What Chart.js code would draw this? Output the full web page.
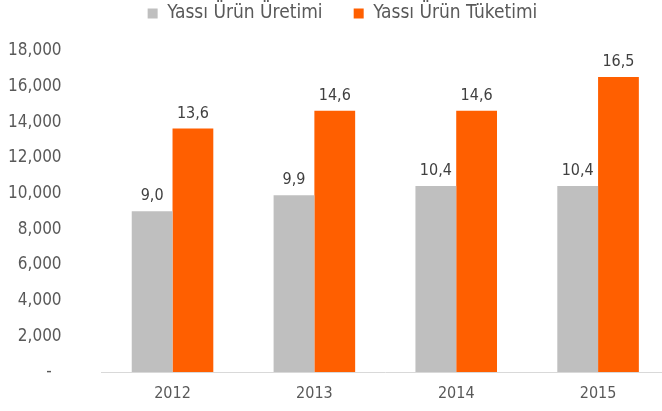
<!DOCTYPE html>
<html>
<head>
<meta charset="utf-8">
<script src="https://cdn.jsdelivr.net/npm/chart.js@4"></script>
<style>
  html, body { margin: 0; padding: 0; background: #fff; overflow: hidden; }
  #wrap { position: absolute; left: 0; top: 0; width: 670px; height: 411px; }
</style>
</head>
<body>
<div id="wrap"><canvas id="c" width="670" height="411"></canvas></div>
<script>
const YEARS = ["2012", "2013", "2014", "2015"];
const URETIM = [9000, 9900, 10420, 10420];
const TUKETIM = [13640, 14640, 14640, 16520];
const SERIES_NAMES = ["Yassı Ürün Üretimi", "Yassı Ürün Tüketimi"];
const Y_MAX = 18000;
const Y_STEP = 2000;

const FONT = "'DejaVu Sans Condensed', 'DejaVu Sans', sans-serif";
const TXT = "#595959";

// etiketler: binler, virgüllü tek ondalık
const fmtLabel = (v) => (v / 1000).toFixed(1).replace(".", ",");

const barLabels = {
  id: "barLabels",
  afterDatasetsDraw(chart) {
    const ctx = chart.ctx;
    ctx.save();
    ctx.font = "16px " + FONT;
    ctx.fillStyle = "#404040";
    ctx.textAlign = "center";
    ctx.textBaseline = "alphabetic";
    chart.data.datasets.forEach((ds, i) => {
      chart.getDatasetMeta(i).data.forEach((bar, j) => {
        ctx.fillText(fmtLabel(ds.data[j]), bar.x, bar.y - 11);
      });
    });
    ctx.restore();
  },
};

// lejantı en üste sabitle (y ekseninin üst boşluğu onu aşağı itiyor)
const legendTop = {
  id: "legendTop",
  afterLayout(chart) {
    const L = chart.legend;
    const dy = L.top;
    L.top -= dy; L.bottom -= dy;
    L.left += 5; L.right += 5;
  },
};

new Chart(document.getElementById("c"), {
  type: "bar",
  data: {
    labels: YEARS,
    datasets: [
      { label: SERIES_NAMES[0], data: URETIM, backgroundColor: "#BFBFBF" },
      { label: SERIES_NAMES[1], data: TUKETIM, backgroundColor: "#FF5F00" },
    ],
  },
  options: {
    responsive: false,
    devicePixelRatio: 1,
    animation: false,
    datasets: { bar: { categoryPercentage: 0.575, barPercentage: 1 } },
    layout: { padding: { left: 6, right: 1, top: 0, bottom: 0 } },
    plugins: {
      tooltip: { enabled: false },
      legend: {
        position: "top",
        labels: {
          boxWidth: 10,
          boxHeight: 10,
          padding: 4,
          color: TXT,
          font: { family: FONT, size: 19 },
          generateLabels(chart) {
            const items = Chart.defaults.plugins.legend.labels.generateLabels(chart);
            items.forEach((it, i) => { if (i < items.length - 1) it.text += "     "; it.lineWidth = 0; });
            return items;
          },
        },
      },
    },
    scales: {
      x: {
        grid: { display: false, drawTicks: false },
        border: { display: true, color: "#D9D9D9", width: 1 },
        ticks: { color: TXT, font: { family: FONT, size: 16 }, padding: 12 },
        afterFit(scale) { scale.height = 39; },
      },
      y: {
        min: 0,
        max: Y_MAX,
        grid: { display: false, drawTicks: false },
        border: { display: false },
        ticks: {
          stepSize: Y_STEP,
          padding: 40,
          color: TXT,
          font: { family: FONT, size: 17 },
          callback: (v) => (v === 0 ? "-  " : v.toLocaleString("en-US")),
        },
        afterFit(scale) {
          scale.width = 95.6;
          scale.paddingTop = 50.7;
          scale.paddingBottom = 0;
        },
      },
    },
  },
  plugins: [barLabels, legendTop],
});
</script>
</body>
</html>
